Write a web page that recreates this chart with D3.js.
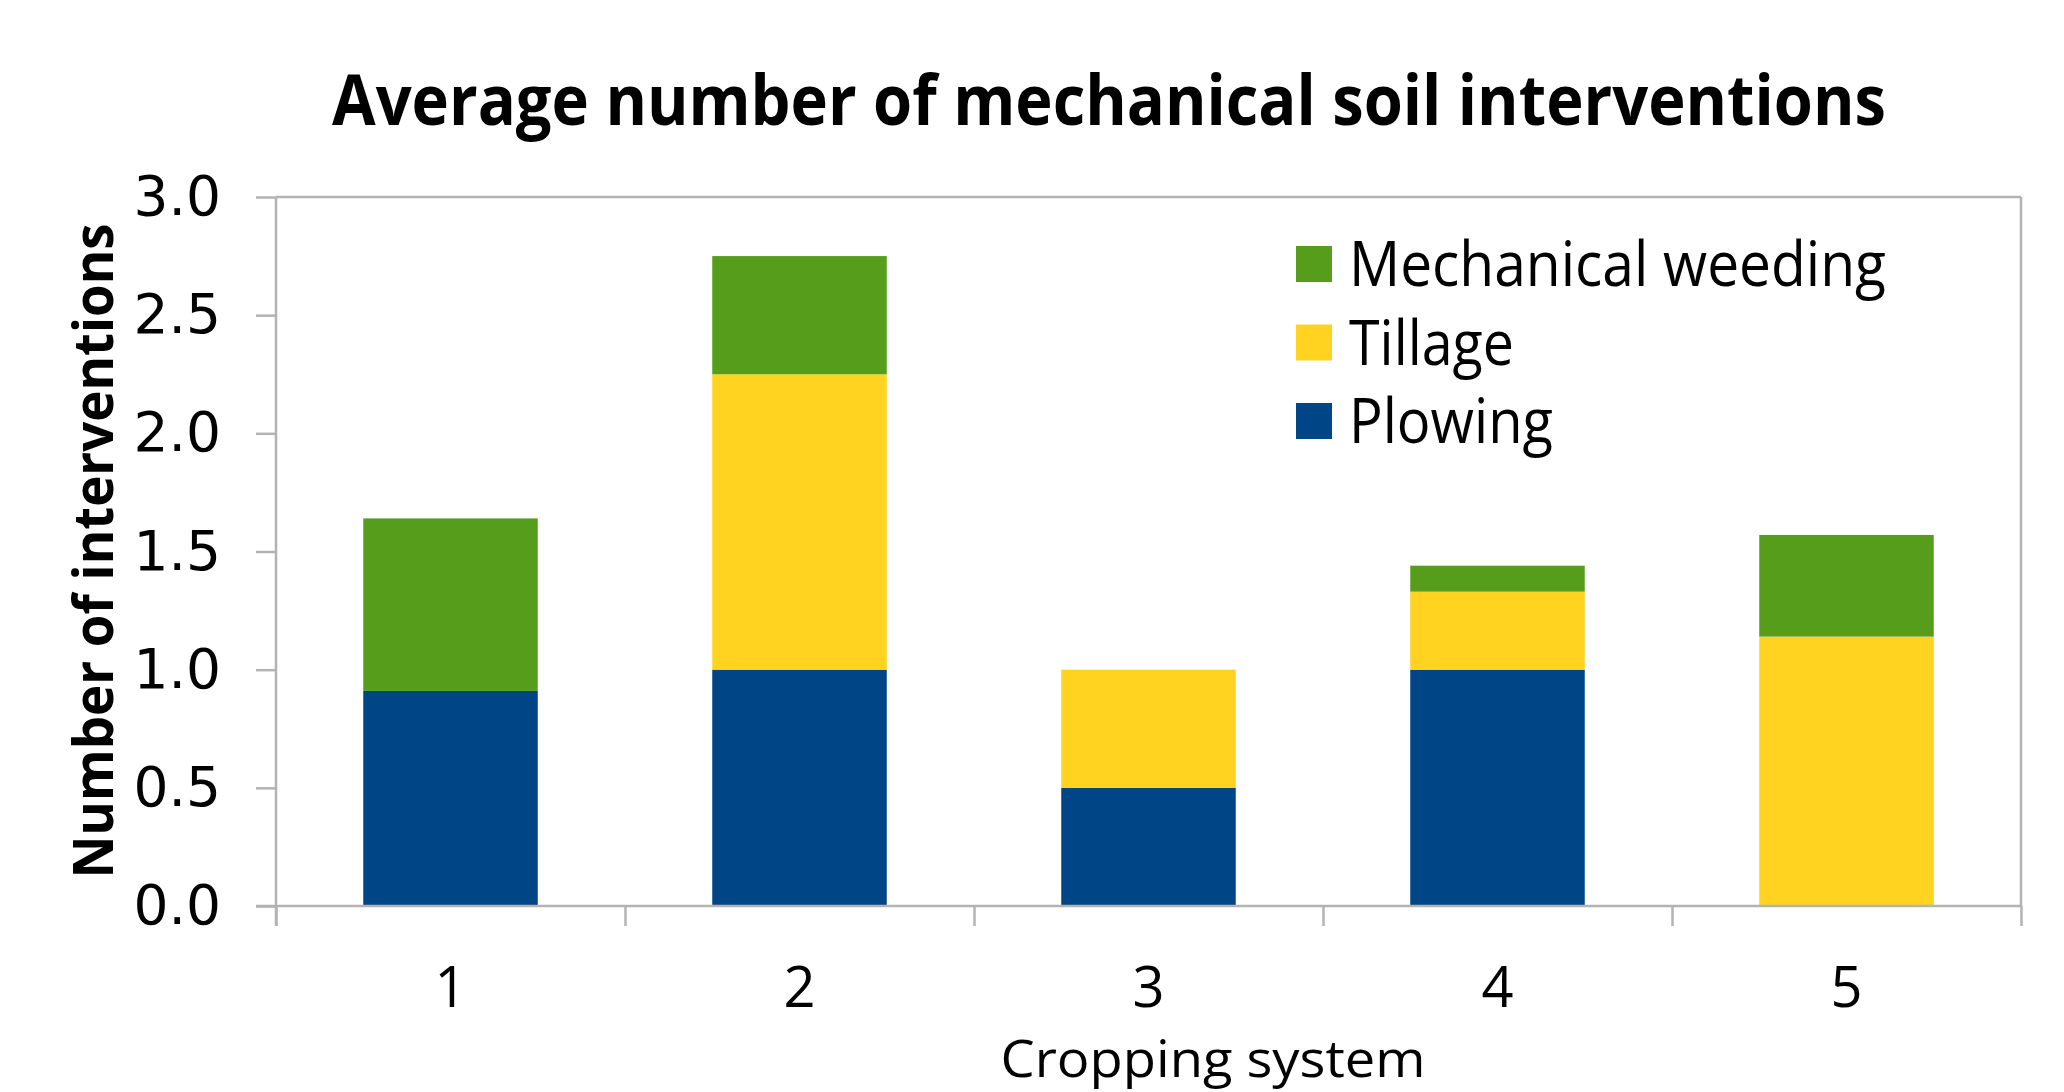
<!DOCTYPE html>
<html>
<head>
<meta charset="utf-8">
<script src="https://cdn.jsdelivr.net/npm/d3@7"></script>
<style>
    body { margin: 0; background: #ffffff; }
    svg { display: block; }
    .domain { display: none; }
</style>
</head>
<body>
<div id="chart"></div>
<script>
// Chart data
var systems = ["1", "2", "3", "4", "5"];
var seriesNames = ["Plowing", "Tillage", "Mechanical weeding"];
var plowing = [0.91, 1.0, 0.5, 1.0, 0.0];
var tillage = [0.0, 1.25, 0.5, 0.33, 1.14];
var weeding = [0.73, 0.5, 0.0, 0.11, 0.43];
var yTicks = [0, 0.5, 1.0, 1.5, 2.0, 2.5, 3.0];
var colors = { "Plowing": "#004586", "Tillage": "#ffd320", "Mechanical weeding": "#579d1c" };

var width = 2064;
var height = 1092;
var margin = { top: 197, right: 43, bottom: 186, left: 276 };
var axisColor = "#b3b3b3";
var bodyFont = "'Open Sans', 'Noto Sans', sans-serif";

var svg = d3.select("#chart")
    .append("svg")
    .attr("width", width)
    .attr("height", height);

// Scales
var x = d3.scaleBand()
    .domain(systems)
    .range([margin.left, width - margin.right])
    .paddingInner(0.5)
    .paddingOuter(0.25);

var xEdges = d3.scaleLinear()
    .domain([0, systems.length])
    .range([margin.left, width - margin.right]);

var y = d3.scaleLinear()
    .domain([0, 3])
    .range([height - margin.bottom, margin.top]);

// Build rows and stack them
var rows = systems.map(function (s, i) {
    return { system: s, "Plowing": plowing[i], "Tillage": tillage[i], "Mechanical weeding": weeding[i] };
});
var stacked = d3.stack().keys(seriesNames)(rows);

// Bars
svg.append("g")
    .selectAll("g")
    .data(stacked)
    .enter().append("g")
    .attr("fill", function (d) { return colors[d.key]; })
    .selectAll("rect")
    .data(function (d) { return d; })
    .enter().append("rect")
    .attr("x", function (d) { return x(d.data.system); })
    .attr("y", function (d) { return y(d[1]); })
    .attr("width", x.bandwidth())
    .attr("height", function (d) { return y(d[0]) - y(d[1]); });

// Plot frame: top and right lines
svg.append("line")
    .attr("x1", margin.left).attr("x2", width - margin.right)
    .attr("y1", y(3)).attr("y2", y(3))
    .attr("stroke", axisColor).attr("stroke-width", 2.5);
svg.append("line")
    .attr("x1", width - margin.right).attr("x2", width - margin.right)
    .attr("y1", y(3)).attr("y2", y(0))
    .attr("stroke", axisColor).attr("stroke-width", 2.5);

// Y axis
var yAxis = svg.append("g")
    .attr("transform", "translate(" + margin.left + ",0)")
    .call(d3.axisLeft(y).tickValues(yTicks).tickFormat(d3.format(".1f")).tickSize(20).tickPadding(35));
yAxis.selectAll("line").attr("stroke", axisColor).attr("stroke-width", 2.5);
yAxis.selectAll("text")
    .attr("font-family", "'DejaVu Sans', Verdana, sans-serif")
    .attr("font-size", 55)
    .attr("fill", "#000");
yAxis.append("line")
    .attr("x1", 0).attr("x2", 0)
    .attr("y1", y(3)).attr("y2", y(0) + 20)
    .attr("stroke", axisColor).attr("stroke-width", 2.5);

// X axis line and boundary ticks
var xTickAxis = svg.append("g")
    .attr("transform", "translate(0," + y(0) + ")")
    .call(d3.axisBottom(xEdges).tickValues(d3.range(systems.length + 1)).tickFormat("").tickSize(20));
xTickAxis.selectAll("line").attr("stroke", axisColor).attr("stroke-width", 2.5);
xTickAxis.append("line")
    .attr("x1", margin.left - 20).attr("x2", width - margin.right)
    .attr("y1", 0).attr("y2", 0)
    .attr("stroke", axisColor).attr("stroke-width", 2.5);

// X category labels
var xLabels = svg.append("g")
    .attr("transform", "translate(0," + y(0) + ")")
    .call(d3.axisBottom(x).tickSize(0));
xLabels.selectAll("text")
    .attr("y", 101)
    .attr("dy", 0)
    .attr("font-family", bodyFont)
    .attr("font-size", 56)
    .attr("fill", "#000");

// Title
svg.append("text")
    .attr("x", 1109)
    .attr("y", 125)
    .attr("text-anchor", "middle")
    .attr("font-family", bodyFont)
    .attr("font-weight", "bold")
    .attr("font-size", 70)
    .attr("textLength", 1554)
    .attr("lengthAdjust", "spacingAndGlyphs")
    .text("Average number of mechanical soil interventions");

// Axis titles
svg.append("text")
    .attr("x", 1213)
    .attr("y", 1077)
    .attr("text-anchor", "middle")
    .attr("font-family", bodyFont)
    .attr("font-size", 52)
    .attr("textLength", 425)
    .attr("lengthAdjust", "spacingAndGlyphs")
    .text("Cropping system");

svg.append("text")
    .attr("transform", "translate(113,551) rotate(-90)")
    .attr("text-anchor", "middle")
    .attr("font-family", bodyFont)
    .attr("font-weight", "bold")
    .attr("font-size", 56)
    .attr("textLength", 655)
    .attr("lengthAdjust", "spacingAndGlyphs")
    .text("Number of interventions");

// Legend, top to bottom
var legendNames = ["Mechanical weeding", "Tillage", "Plowing"];
var legendWidths = [537, 165, 204];
var legend = svg.append("g")
    .selectAll("g")
    .data(legendNames)
    .enter().append("g")
    .attr("transform", function (d, i) { return "translate(1296," + (264 + i * 78.5) + ")"; });

legend.append("rect")
    .attr("x", 0)
    .attr("y", -18)
    .attr("width", 36)
    .attr("height", 36)
    .attr("fill", function (d) { return colors[d]; });

legend.append("text")
    .attr("x", 53)
    .attr("y", 22)
    .attr("font-family", bodyFont)
    .attr("font-size", 63)
    .attr("textLength", function (d, i) { return legendWidths[i]; })
    .attr("lengthAdjust", "spacingAndGlyphs")
    .text(function (d) { return d; });
</script>
</body>
</html>
